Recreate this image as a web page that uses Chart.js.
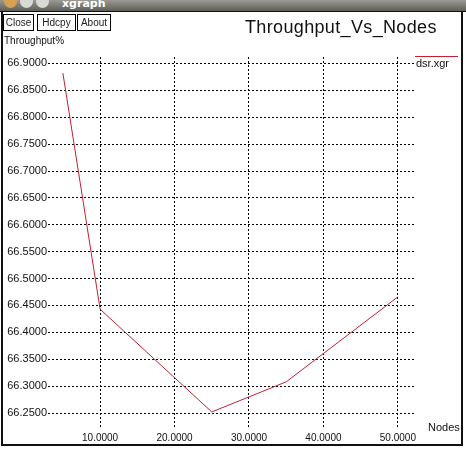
<!DOCTYPE html>
<html>
<head>
<meta charset="utf-8">
<script src="https://cdn.jsdelivr.net/npm/chart.js@4.4.1/dist/chart.umd.min.js"></script>
<style>
    body { margin: 0; background: #fff; }
    #win { position: relative; width: 466px; height: 450px; overflow: hidden; font-family: "Liberation Sans", Arial, sans-serif; }
    #titlebar { position: absolute; left: 0; top: 0; width: 466px; height: 11px; background: linear-gradient(#9a9a92, #5e5e58); border-bottom: 1px solid #111; overflow: hidden; }
    #titlebar .dot { position: absolute; top: -5px; width: 13px; height: 13px; border-radius: 50%; background: #d8d8d4; }
    #titlebar .name { position: absolute; left: 62px; top: -3px; color: #fff; font: bold 11px "DejaVu Sans", sans-serif; }
    #frame { position: absolute; left: 1px; top: 12px; width: 458px; height: 432px; border: 2px solid #111; border-top: none; }
    .btn { position: absolute; top: 14px; height: 15px; border: 1px solid #000; font-size: 10px; line-height: 15px; text-align: center; color: #222; }
    .lbl { position: absolute; color: #111; white-space: nowrap; }
    canvas { position: absolute; left: 0; top: 0; }
</style>
</head>
<body>
<div id="win">
    <div id="titlebar">
        <div class="dot" style="left:4px;background:#d9a050"></div>
        <div class="dot" style="left:20px"></div>
        <div class="dot" style="left:36px"></div>
        <div class="name">xgraph</div>
    </div>
    <div id="frame"></div>
    <canvas id="graphChart" width="466" height="450"></canvas>
    <div class="btn" style="left:3px;width:29px">Close</div>
    <div class="btn" style="left:37px;width:37px">Hdcpy</div>
    <div class="btn" style="left:77px;width:32px">About</div>
    <div class="lbl" style="left:245px;top:17px;font-size:18px;letter-spacing:0.35px">Throughput_Vs_Nodes</div>
    <div class="lbl" style="left:4px;top:35px;font-size:10px">Throughput%</div>
    <div class="lbl" style="left:428px;top:421px;font-size:11px">Nodes</div>
    <div style="position:absolute;left:415px;top:56px;width:43px;border-top:1px solid #c42030"></div>
    <div class="lbl" style="left:416px;top:57px;font-size:11px">dsr.xgr</div>
</div>
<script>
// datos (xgraph)
const nodes = [5, 10, 25, 35, 50];
const throughput = [66.882, 66.443, 66.252, 66.308, 66.466];
const xTicks = [10, 20, 30, 40, 50];
const yTicks = [66.25, 66.30, 66.35, 66.40, 66.45, 66.50, 66.55, 66.60, 66.65, 66.70, 66.75, 66.80, 66.85, 66.90];

const ctx = document.getElementById("graphChart");

new Chart(ctx, {
    type: "scatter",
    data: {
        datasets: [
            {
                label: "dsr.xgr",
                data: nodes.map((n, i) => ({ x: n, y: throughput[i] })),
                showLine: true,
                borderColor: "#c42030",
                borderWidth: 1,
                pointRadius: 0,
                tension: 0,
            },
        ],
    },
    options: {
        responsive: false,
        animation: false,
        devicePixelRatio: 1,
        layout: { padding: { left: 2, right: 51, top: 57, bottom: 3 } },
        scales: {
            x: {
                type: "linear",
                min: 3.0,
                max: 52.3,
                afterBuildTicks: (axis) => { axis.ticks = xTicks.map((v) => ({ value: v })); },
                afterFit: (axis) => { axis.height = 20; },
                grid: { color: "#000", lineWidth: 1, drawTicks: false },
                border: { display: false, dash: [2, 2] },
                ticks: {
                    color: "#111",
                    padding: 5,
                    maxRotation: 0,
                    font: { family: "Liberation Sans", size: 10 },
                    callback: (v) => Number(v).toFixed(4),
                },
            },
            y: {
                type: "linear",
                min: 66.224,
                max: 66.912,
                afterBuildTicks: (axis) => { axis.ticks = yTicks.map((v) => ({ value: v })); },
                afterFit: (axis) => { axis.width = 46; },
                grid: { color: "#000", lineWidth: 1, drawTicks: false },
                border: { display: false, dash: [2, 2] },
                ticks: {
                    color: "#111",
                    padding: 1,
                    font: { family: "Liberation Sans", size: 11 },
                    callback: (v) => Number(v).toFixed(4),
                },
            },
        },
        plugins: {
            legend: { display: false },
            title: { display: false },
            tooltip: { enabled: false },
        },
    },
});
</script>
</body>
</html>
